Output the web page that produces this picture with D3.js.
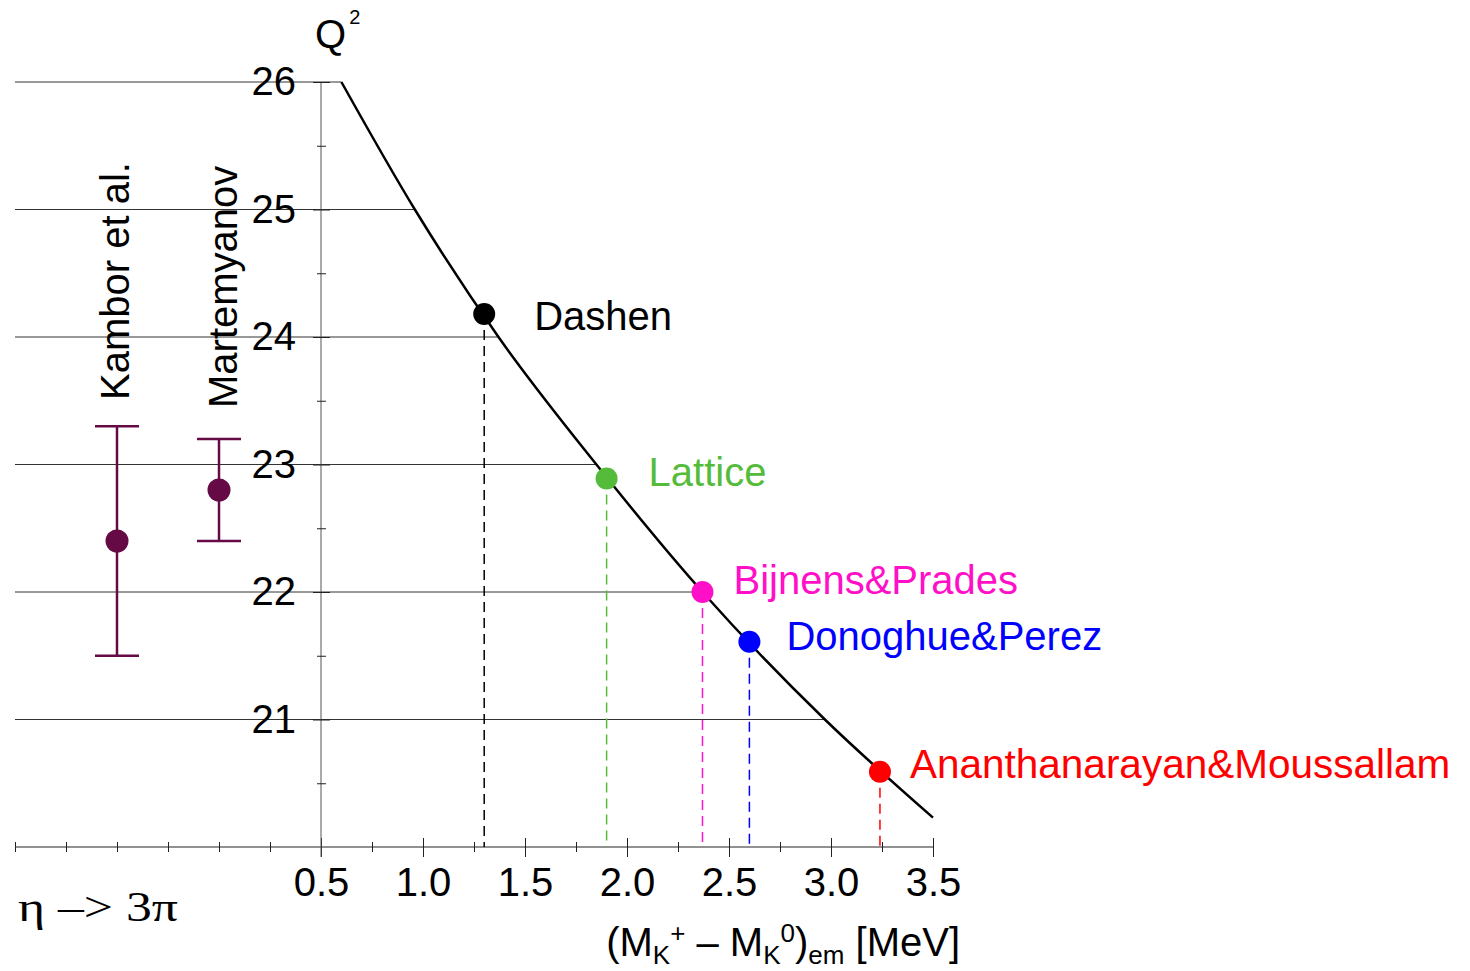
<!DOCTYPE html>
<html>
<head>
<meta charset="utf-8">
<script src="https://cdn.jsdelivr.net/npm/d3@7"></script>
<style>
  body { margin: 0; background: #fff; }
  svg text { font-family: "Liberation Sans", Arial, sans-serif; }
</style>
</head>
<body>
<svg id="chart" width="1470" height="971"></svg>
<script>
// curve Q^2 vs (M_K+ - M_K0)_em
const curveX = [0.6, 0.96, 1.37, 1.85, 2.37, 2.97, 3.5];
const curveQ = [26, 25, 24, 23, 22, 21, 20.23];

// determinations marked on the curve
const pointNames  = ["Dashen", "Lattice", "Bijnens&Prades", "Donoghue&Perez", "Ananthanarayan&Moussallam"];
const pointX      = [1.3, 1.9, 2.37, 2.6, 3.24];
const pointQ      = [24.18, 22.89, 22.0, 21.61, 20.59];
const pointColors = ["#000000", "#55bb3a", "#ff10c8", "#0000ff", "#ff0000"];

// eta -> 3pi results (error bars on the left)
const etaNames = ["Kambor et al.", "Martemyanov"];
const etaX     = [-0.5, 0.0];
const etaQ     = [22.4, 22.8];
const etaLow   = [21.5, 22.4];
const etaHigh  = [23.3, 23.2];

const xMajorTicks = [0.5, 1.0, 1.5, 2.0, 2.5, 3.0, 3.5];
const xMinorTicks = [-1.0, -0.75, -0.5, -0.25, 0.0, 0.25, 0.75, 1.25, 1.75, 2.25, 2.75, 3.25];
const yMajorTicks = [21, 22, 23, 24, 25, 26];
const yMinorTicks = [20.5, 21.5, 22.5, 23.5, 24.5, 25.5];

const svg = d3.select("#chart");

const x = d3.scaleLinear().domain([-1, 3.5]).range([15, 933]);
const y = d3.scaleLinear().domain([20, 26]).range([847, 82]);

// label offsets (px) from each point
const labelDx = [50, 42, 31, 37, 30];
const labelDy = [16, 7, 2, 8, 6];

// horizontal grid lines, stopping at the curve
svg.append("g")
    .selectAll("line")
    .data(yMajorTicks)
    .enter()
    .append("line")
    .attr("x1", x(-1))
    .attr("x2", d => x(curveX[curveQ.indexOf(d)]))
    .attr("y1", d => y(d))
    .attr("y2", d => y(d))
    .attr("stroke", "#333")
    .attr("stroke-width", 1);

// x axis
const xMajor = svg.append("g")
    .attr("transform", `translate(0, ${y(20)})`)
    .call(d3.axisBottom(x).tickValues(xMajorTicks).tickSize(10).tickPadding(11)
        .tickFormat(d3.format(".1f")));
xMajor.select(".domain").attr("stroke", "#222").attr("d", `M${x(-1)},0H${x(3.5)}`);
xMajor.selectAll(".tick line").attr("y1", -9).attr("stroke", "#222");
xMajor.selectAll("text")
    .attr("font-size", "40px")
    .attr("font-family", "Liberation Sans, Arial, sans-serif")
    .attr("fill", "#000");

const xMinor = svg.append("g")
    .attr("transform", `translate(0, ${y(20)})`)
    .call(d3.axisBottom(x).tickValues(xMinorTicks).tickSize(5).tickFormat(""));
xMinor.select(".domain").remove();
xMinor.selectAll(".tick line").attr("y1", -5).attr("stroke", "#222");

// y axis
const yMajor = svg.append("g")
    .attr("transform", `translate(${x(0.5)}, 0)`)
    .call(d3.axisLeft(y).tickValues(yMajorTicks).tickSize(8).tickPadding(17)
        .tickFormat(d3.format("d")));
yMajor.select(".domain").attr("stroke", "#555").attr("d", `M0,${y(26)}V${y(20) + 10}`);
yMajor.selectAll(".tick line").attr("x1", 9).attr("stroke", "#222");
yMajor.selectAll("text")
    .attr("font-size", "40px")
    .attr("font-family", "Liberation Sans, Arial, sans-serif")
    .attr("fill", "#000");

const yMinor = svg.append("g")
    .attr("transform", `translate(${x(0.5)}, 0)`)
    .call(d3.axisLeft(y).tickValues(yMinorTicks).tickSize(4).tickFormat(""));
yMinor.select(".domain").remove();
yMinor.selectAll(".tick line").attr("x1", 5).attr("stroke", "#222");

// the curve
const line = d3.line()
    .x((d, i) => x(curveX[i]))
    .y(d => y(d))
    .curve(d3.curveMonotoneX);

svg.append("path")
    .attr("d", line(curveQ))
    .attr("fill", "none")
    .attr("stroke", "#000")
    .attr("stroke-width", 2.5);

// dashed drop lines
svg.append("g")
    .selectAll("line")
    .data(pointX)
    .enter()
    .append("line")
    .attr("x1", d => x(d))
    .attr("x2", d => x(d))
    .attr("y1", (d, i) => y(pointQ[i]))
    .attr("y2", y(20))
    .attr("stroke", (d, i) => pointColors[i])
    .attr("stroke-width", 1.5)
    .attr("stroke-dasharray", "10,6");

// points + labels
svg.append("g")
    .selectAll("circle")
    .data(pointX)
    .enter()
    .append("circle")
    .attr("cx", d => x(d))
    .attr("cy", (d, i) => y(pointQ[i]))
    .attr("r", 11)
    .attr("fill", (d, i) => pointColors[i]);

svg.append("g")
    .selectAll("text")
    .data(pointNames)
    .enter()
    .append("text")
    .text(d => d)
    .attr("x", (d, i) => x(pointX[i]) + labelDx[i])
    .attr("y", (d, i) => y(pointQ[i]) + labelDy[i])
    .attr("font-size", (d, i) => i == 4 ? "40.5px" : "40px")
    .attr("fill", (d, i) => pointColors[i]);

// eta -> 3pi error bars
const errColor = "#650a45";
const eb = svg.append("g")
    .selectAll("g")
    .data(etaX)
    .enter()
    .append("g");

eb.append("line")
    .attr("x1", d => x(d)).attr("x2", d => x(d))
    .attr("y1", (d, i) => y(etaLow[i]))
    .attr("y2", (d, i) => y(etaHigh[i]))
    .attr("stroke", errColor).attr("stroke-width", 2.5);
eb.append("line")
    .attr("x1", d => x(d) - 22).attr("x2", d => x(d) + 22)
    .attr("y1", (d, i) => y(etaLow[i])).attr("y2", (d, i) => y(etaLow[i]))
    .attr("stroke", errColor).attr("stroke-width", 2.5);
eb.append("line")
    .attr("x1", d => x(d) - 22).attr("x2", d => x(d) + 22)
    .attr("y1", (d, i) => y(etaHigh[i])).attr("y2", (d, i) => y(etaHigh[i]))
    .attr("stroke", errColor).attr("stroke-width", 2.5);
eb.append("circle")
    .attr("cx", d => x(d))
    .attr("cy", (d, i) => y(etaQ[i]))
    .attr("r", 11.5)
    .attr("fill", errColor);

// rotated names above the bars
eb.append("text")
    .text((d, i) => etaNames[i])
    .attr("transform", (d, i) => `translate(${x(d) + 12 + (i ? 6 : 0)}, ${i ? 408 : 400}) rotate(-90)`)
    .attr("font-size", "40px")
    .attr("fill", "#000");

// titles
svg.append("text")
    .attr("x", 315).attr("y", 48)
    .attr("font-size", "40px")
    .text("Q")
    .append("tspan")
    .attr("font-size", "20px")
    .attr("dy", -24)
    .attr("dx", 3)
    .text("2");

const xt = svg.append("text")
    .attr("x", 960).attr("y", 956)
    .attr("text-anchor", "end")
    .attr("font-size", "40px");
xt.append("tspan").text("(M");
xt.append("tspan").attr("font-size", "26px").attr("dy", 8).text("K");
xt.append("tspan").attr("font-size", "26px").attr("dy", -22).text("+");
xt.append("tspan").attr("dy", 14).text(" \u2013 M");
xt.append("tspan").attr("font-size", "26px").attr("dy", 8).text("K");
xt.append("tspan").attr("font-size", "26px").attr("dy", -22).text("0");
xt.append("tspan").attr("dy", 14).text(")");
xt.append("tspan").attr("font-size", "26px").attr("dy", 8).text("em");
xt.append("tspan").attr("dy", -8).text(" [MeV]");

svg.append("text")
    .attr("x", 18).attr("y", 921)
    .style("font-family", "'Liberation Serif', 'Times New Roman', serif")
    .attr("font-size", "42px")
    .attr("textLength", 160)
    .attr("lengthAdjust", "spacingAndGlyphs")
    .text("\u03b7 \u2013> 3\u03c0");
</script>
</body>
</html>
